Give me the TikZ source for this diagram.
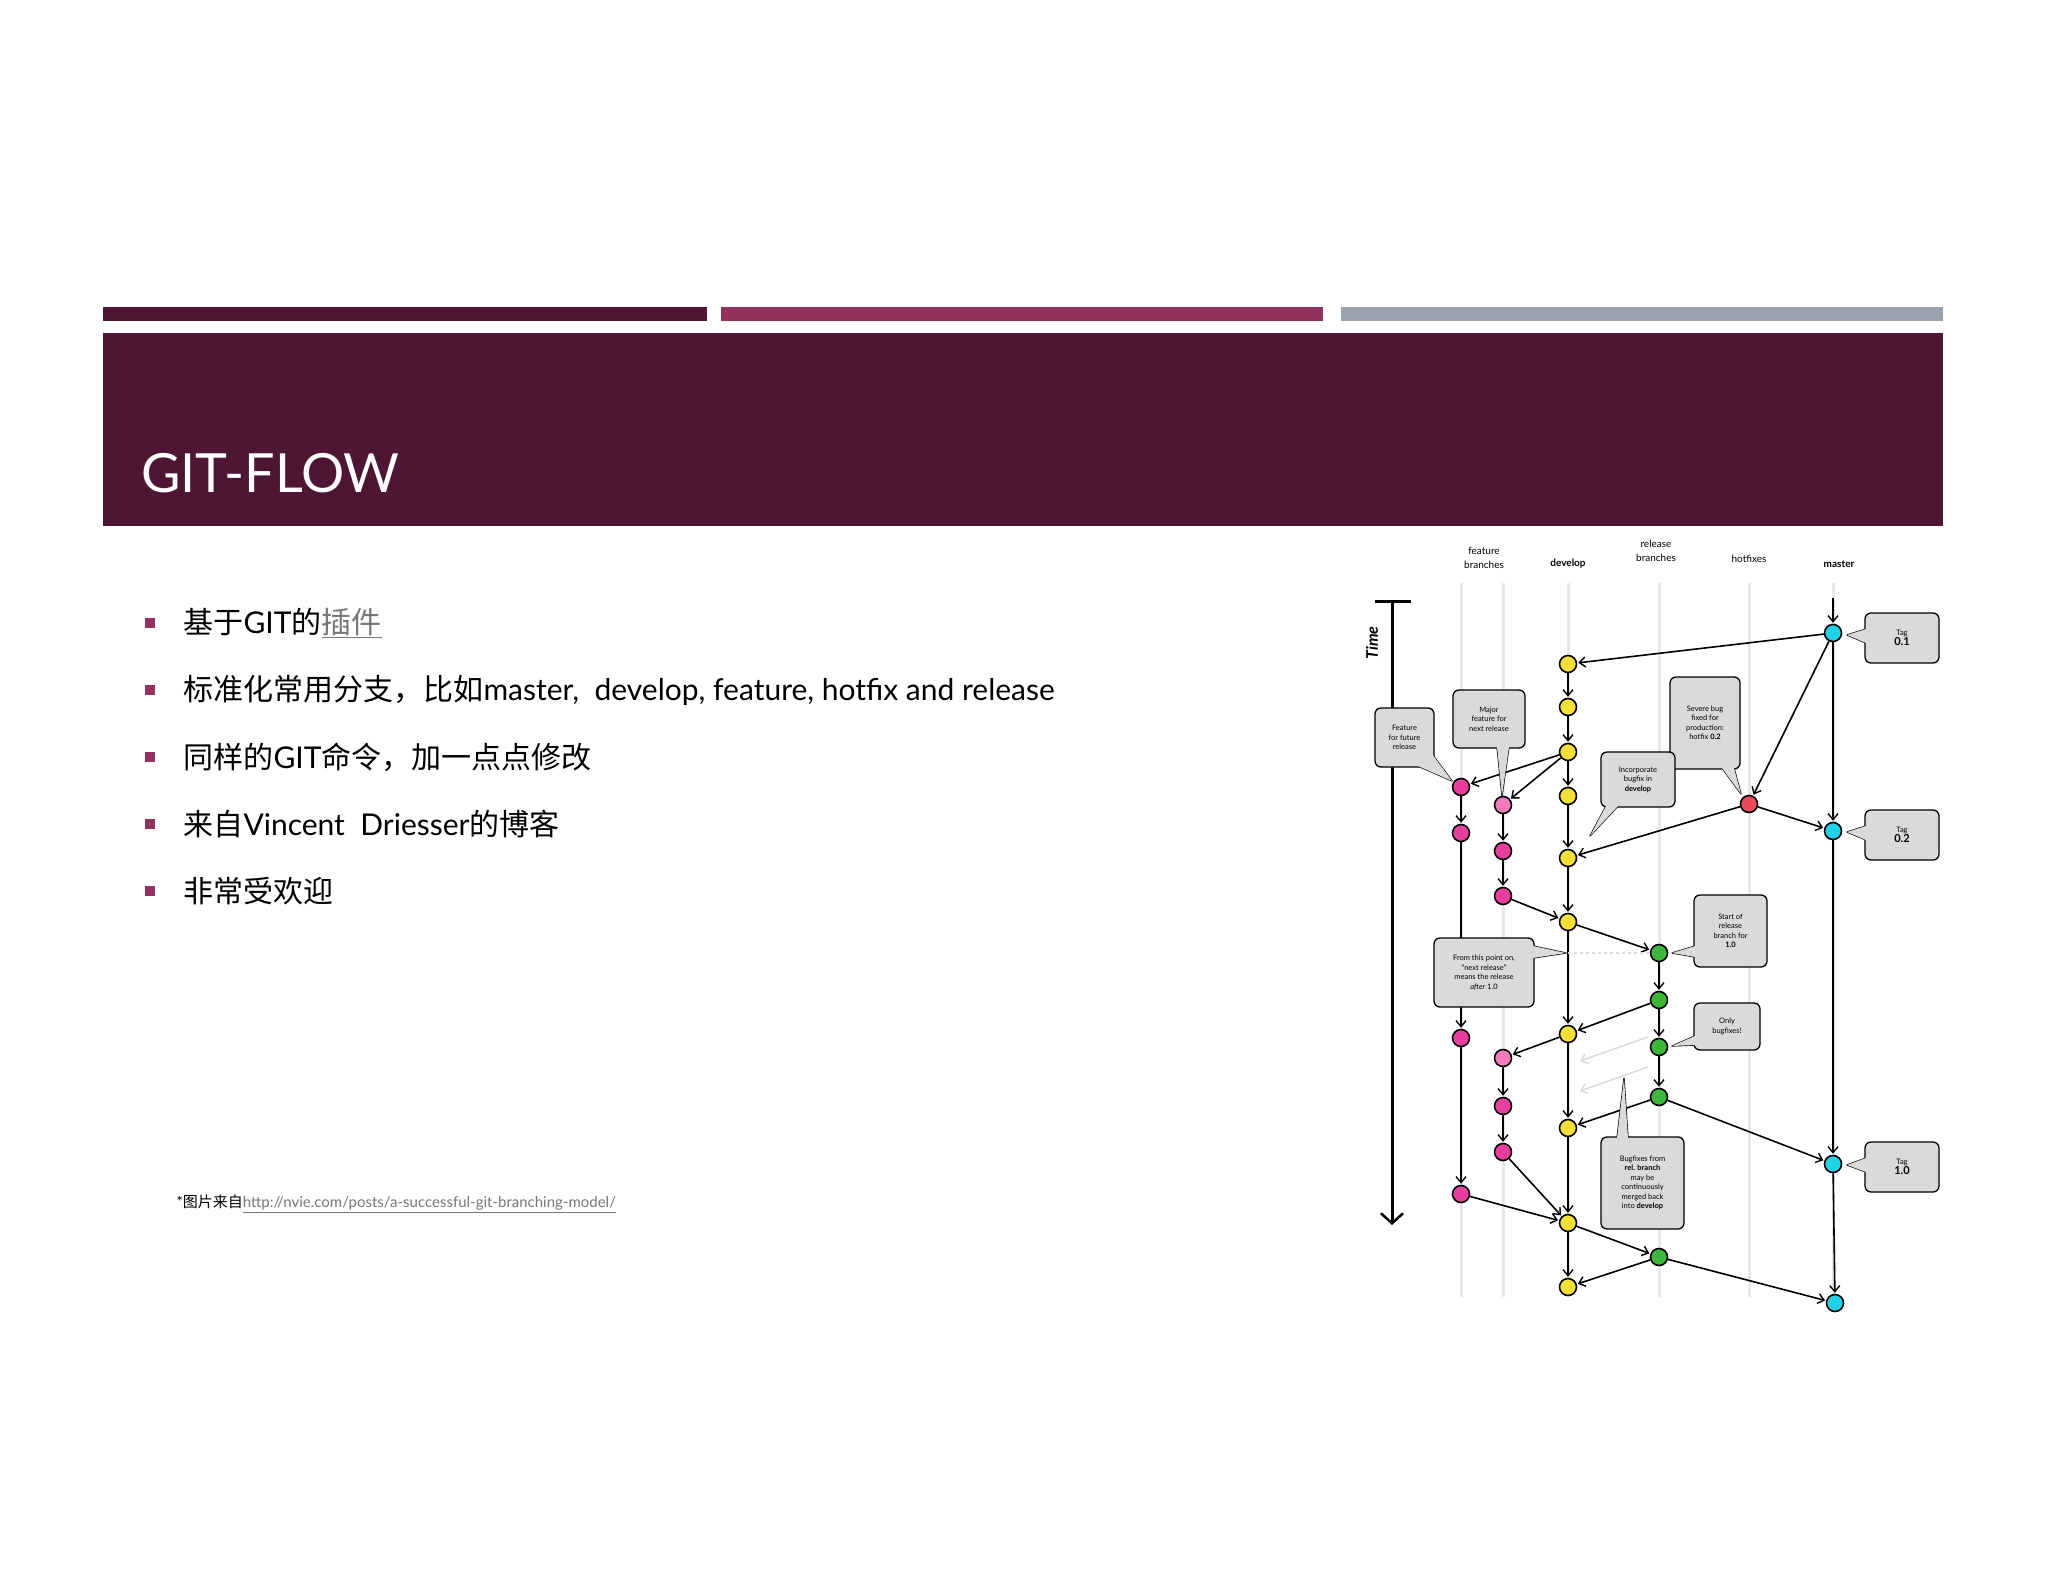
\documentclass[tikz,border=0pt]{standalone}
\usepackage{fontspec}
\setmainfont{Lato}
\newfontfamily\cjk{Noto Sans CJK SC}
\usetikzlibrary{arrows.meta}
\definecolor{plum}{HTML}{4E1535}
\definecolor{berry}{HTML}{93325F}
\definecolor{slate}{HTML}{9AA3AD}
\definecolor{cyel}{HTML}{F5E03A}
\definecolor{cpink}{HTML}{E83E9E}
\definecolor{clpink}{HTML}{F27BBE}
\definecolor{cred}{HTML}{E84C57}
\definecolor{ccyan}{HTML}{22D3E8}
\definecolor{cgreen}{HTML}{3DB63A}
\definecolor{boxfill}{HTML}{DADADA}
\definecolor{linkgray}{HTML}{777777}
\tikzset{
  commit/.style={circle,draw=black,line width=1.6pt,minimum size=17pt,inner sep=0pt},
  edge/.style={line width=1.6pt,-{Straight Barb[length=6pt,width=10pt,line width=1.4pt]},shorten >=1pt},
  ghost/.style={line width=1.4pt,draw=gray!30,-{Straight Barb[length=6pt,width=10pt]}},
  lane/.style={line width=3pt,draw=gray!18},
  callbox/.style={draw=black,line width=1.3pt,rounded corners=6pt,fill=boxfill,align=center,font=\fontsize{7.5}{9.5}\selectfont,inner sep=2pt},
  hdr/.style={font=\fontsize{10}{14}\selectfont,align=center},
  bullet/.style={fill=berry,minimum size=10pt,inner sep=0pt},
  btext/.style={anchor=west,font=\fontsize{30}{36}\selectfont}
}
\newcommand{\callout}[6]{% name, center, w, h, text, pointer path
  \fill[boxfill,draw=black,line width=1.3pt,line join=round] #6 -- cycle;
  \node[callbox,minimum width=#3,minimum height=#4] (#1) at #2 {#5};
  \fill[boxfill] #6 -- cycle;
}
\begin{document}
\begin{tikzpicture}[x=1pt,y=-1pt]
\useasboundingbox (0,0) rectangle (2048,1582);
\fill[white] (0,0) rectangle (2048,1582);
% stripes and title
\fill[plum] (103,307) rectangle (707,321);
\fill[berry] (721,307) rectangle (1323,321);
\fill[slate] (1341,307) rectangle (1943,321);
\fill[plum] (103,333) rectangle (1943,526);
\node[anchor=base west,text=white,font=\fontsize{54}{60}\selectfont,inner sep=0] (title) at (141,492) {GIT-FLOW};
% bullets
\foreach \y/\n in {623/1,690/2,757/3,824/4,891/5}{\node[bullet] (b\n) at (150,\y) {};}
\node[btext] (t1) at (180,623) {\cjk 基于\rmfamily GIT\cjk 的\textcolor{linkgray}{\underline{插件}}};
\node[btext] (t2) at (180,690) {\cjk 标准化常用分支，比如\rmfamily master,\ \ develop, feature, hotfix and release};
\node[btext] (t3) at (180,757) {\cjk 同样的\rmfamily GIT\cjk 命令，加一点点修改};
\node[btext] (t4) at (180,824) {\cjk 来自\rmfamily Vincent\ \ Driesser\cjk 的博客};
\node[btext] (t5) at (180,891) {\cjk 非常受欢迎};
\node[anchor=west,font=\fontsize{15}{18}\selectfont] (foot) at (173,1204) {*{\cjk 图片来自}\textcolor{linkgray}{\underline{http://nvie.com/posts/a-successful-git-branching-model/}}};
% headers
\node[hdr] (hf) at (1484,558) {feature\\branches};
\node[hdr,font=\fontsize{10}{14}\selectfont\bfseries] (hd) at (1568,564) {develop};
\node[hdr] (hr) at (1656,551) {release\\branches};
\node[hdr] (hh) at (1749,559) {hotfixes};
\node[hdr,font=\fontsize{10}{14}\selectfont\bfseries] (hm) at (1839,564) {master};
% lanes
\foreach \x in {1461,1503,1568,1659,1749,1833}{\draw[lane] (\x,583) -- (\x,1297);}
% time axis
\coordinate (ttop) at (1392,601);
\coordinate (tbot) at (1392,1225);
\draw[line width=3pt] (1375,601) -- (1411,601);
\draw[line width=3pt,-{Straight Barb[length=10pt,width=22pt,line width=2.5pt]}] (ttop) -- (tbot);
\node[rotate=90,font=\fontsize{16}{18}\selectfont\bfseries\itshape] (time) at (1372,643) {Time};
% commits
\node[commit,fill=ccyan] (m1) at (1833,633) {};
\node[commit,fill=ccyan] (m2) at (1833,831) {};
\node[commit,fill=ccyan] (m3) at (1833,1164) {};
\node[commit,fill=ccyan] (m4) at (1835,1303) {};
\node[commit,fill=cred] (h1) at (1749,804) {};
\foreach \n/\y in {1/664,2/707,3/752,4/796,5/858,6/922,7/1034,8/1128,9/1223,10/1287}{\node[commit,fill=cyel] (d\n) at (1568,\y) {};}
\foreach \n/\y in {1/953,2/1000,3/1047,4/1097,5/1257}{\node[commit,fill=cgreen] (r\n) at (1659,\y) {};}
\node[commit,fill=cpink] (f1a) at (1461,787) {};
\node[commit,fill=cpink] (f1b) at (1461,833) {};
\node[commit,fill=cpink] (f1c) at (1461,1038) {};
\node[commit,fill=cpink] (f1d) at (1461,1194) {};
\node[commit,fill=clpink] (f2a) at (1503,805) {};
\node[commit,fill=cpink] (f2b) at (1503,851) {};
\node[commit,fill=cpink] (f2c) at (1503,896) {};
\node[commit,fill=clpink] (f2d) at (1503,1058) {};
\node[commit,fill=cpink] (f2e) at (1503,1106) {};
\node[commit,fill=cpink] (f2f) at (1503,1152) {};
% master top
\coordinate (mtop) at (1833,598);
\draw[edge] (mtop) -- (m1);
% edges
\foreach \a/\b in {m1/d1,d1/d2,d2/d3,d3/d4,d4/d5,d5/d6,d3/f1a,d3/f2a,f1a/f1b,f2a/f2b,f2b/f2c,f2c/d6,m1/h1,h1/m2,h1/d5,m1/m2,d6/r1,r1/r2,r2/d7,r2/r3,d6/d7,d7/f2d,f2d/f2e,f2e/f2f,f1b/f1c,f1c/f1d,r3/r4,r4/d8,d7/d8,d8/d9,f2f/d9,f1d/d9,r4/m3,m2/m3,d9/r5,r5/d10,d9/d10,r5/m4,m3/m4}{\draw[edge] (\a) -- (\b);}
% ghost arrows
\coordinate (g1s) at (1648,1037); \coordinate (g1e) at (1580,1061);
\coordinate (g2s) at (1648,1067); \coordinate (g2e) at (1580,1091);
\draw[ghost] (g1s) -- (g1e);
\draw[ghost] (g2s) -- (g2e);
\draw[dashed,line width=1.5pt,gray!30] (d6 |- r1) -- (r1);
% callouts
\callout{cff}{(1404.5,737.5)}{59pt}{59pt}{Feature\\for future\\release}{(1418,766) -- (1452,781) -- (1432,754)}
\callout{cmaj}{(1489,719)}{72pt}{58pt}{Major\\feature for\\next release}{(1497,747) -- (1502,796) -- (1509,747)}
\callout{csev}{(1705,723)}{70pt}{92pt}{Severe bug\\fixed for\\production:\\hotfix \textbf{0.2}}{(1722,768) -- (1741,794) -- (1734,768)}
\callout{cinc}{(1638,779.5)}{74pt}{55pt}{Incorporate\\bugfix in\\\textbf{develop}}{(1606,806) -- (1590,836) -- (1618,806)}
\callout{ct1}{(1902,638)}{74pt}{50pt}{Tag\\\fontsize{11}{12}\selectfont\bfseries 0.1}{(1866,629) -- (1847,635) -- (1866,643)}
\callout{ct2}{(1902,835)}{74pt}{50pt}{Tag\\\fontsize{11}{12}\selectfont\bfseries 0.2}{(1866,826) -- (1847,832) -- (1866,840)}
\callout{ct3}{(1902,1167)}{74pt}{50pt}{Tag\\\fontsize{11}{12}\selectfont\bfseries 1.0}{(1866,1158) -- (1847,1165) -- (1866,1172)}
\callout{cstart}{(1730.5,931)}{73pt}{72pt}{Start of\\release\\branch for\\\textbf{1.0}}{(1695,946) -- (1672,953) -- (1695,957)}
\callout{cfrom}{(1484,972.5)}{100pt}{69pt}{From this point on,\\``next release''\\means the release\\\textit{after} 1.0}{(1533,946) -- (1566,953) -- (1533,958)}
\callout{conly}{(1727,1026.5)}{66pt}{47pt}{Only\\bugfixes!}{(1695,1036) -- (1672,1046) -- (1695,1045)}
\callout{cbug}{(1642.5,1183)}{83pt}{92pt}{Bugfixes from\\\textbf{rel. branch}\\may be\\continuously\\merged back\\into \textbf{develop}}{(1617,1138) -- (1624,1078) -- (1628,1138)}
\end{tikzpicture}
\end{document}
